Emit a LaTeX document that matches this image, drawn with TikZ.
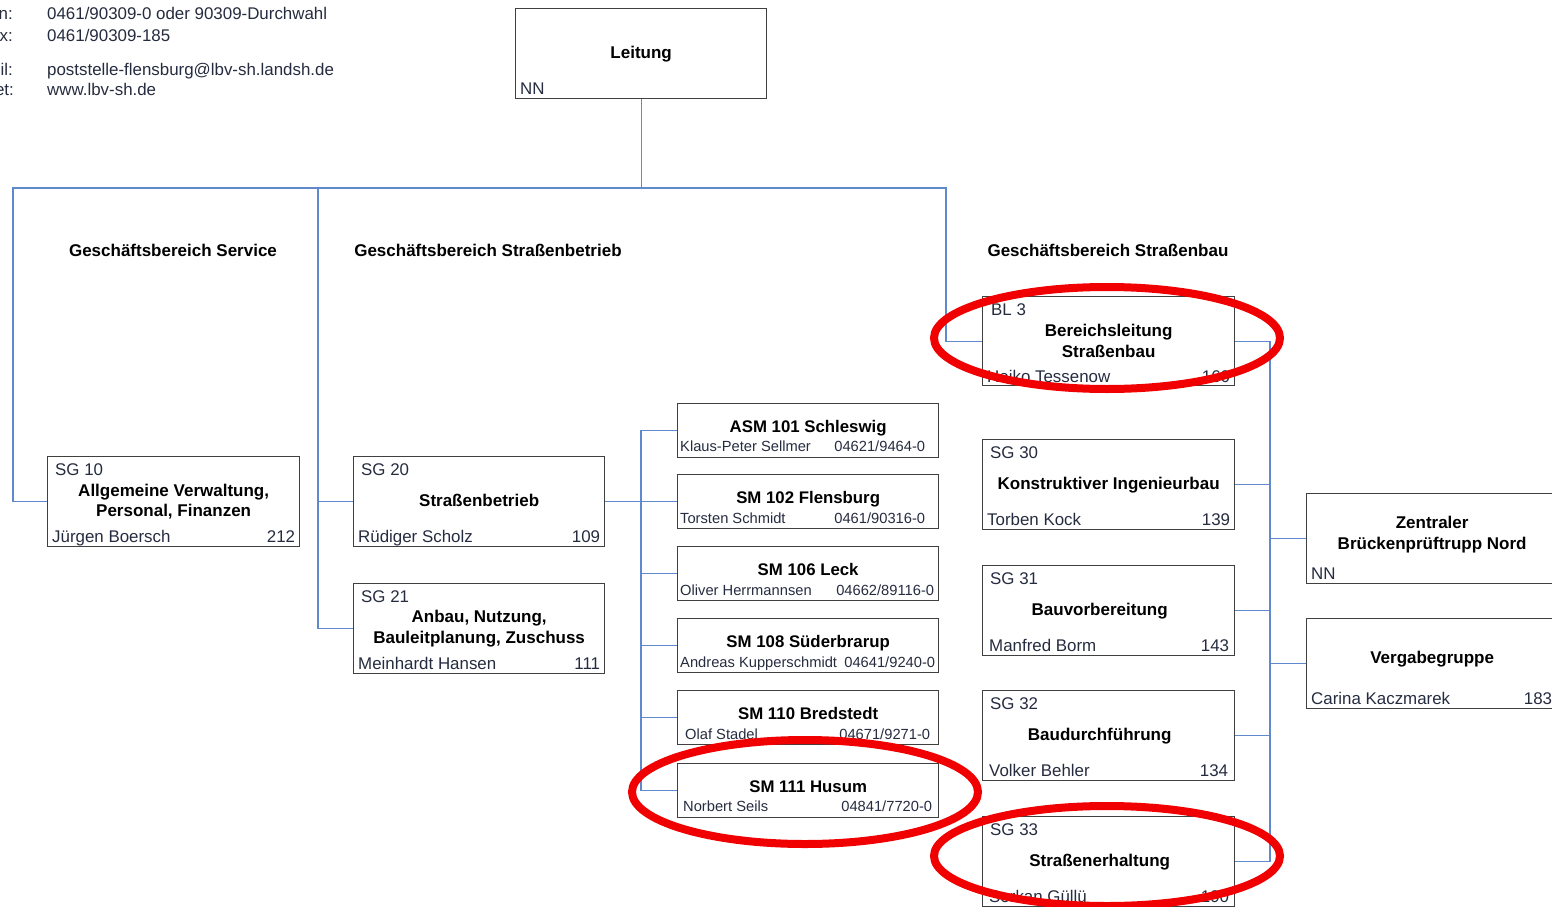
\documentclass[tikz,border=0pt]{standalone}
\usepackage{fontspec}
\setmainfont{Liberation Sans}
\usetikzlibrary{positioning}

\definecolor{linkblue}{RGB}{96,136,204}
\definecolor{framegray}{RGB}{64,64,64}
\definecolor{inkgray}{RGB}{38,44,64}
\definecolor{markred}{RGB}{240,0,0}

\tikzset{
  unitbox/.style={draw=framegray, line width=1.3pt, inner sep=0pt, anchor=north west},
  link/.style={draw=linkblue, line width=1.1pt},
  title/.style={font=\fontsize{17}{20.5}\selectfont\bfseries, align=center, inner sep=0pt},
  smtitle/.style={font=\fontsize{16.8}{19}\selectfont\bfseries, inner sep=0pt, anchor=base},
  info/.style={font=\fontsize{16.9}{20}\selectfont, text=inkgray, inner sep=0pt},
  small/.style={font=\fontsize{14.7}{17}\selectfont, text=inkgray, inner sep=0pt},
  marker/.style={draw=markred, line width=8pt},
}

\begin{document}
\begin{tikzpicture}[x=1pt, y=-1pt]
  \useasboundingbox (0,0) rectangle (1552,907);

  % contact lines, top left
  \node[info, anchor=base east] (telkey) at (13,20) {n:};
  \node[info, anchor=base west] (telval) at (47,20) {0461/90309-0 oder 90309-Durchwahl};
  \node[info, anchor=base east] (faxkey) at (13,42) {x:};
  \node[info, anchor=base west] (faxval) at (47,42) {0461/90309-185};
  \node[info, anchor=base east] (mailkey) at (13,75) {il:};
  \node[info, anchor=base west] (mailval) at (47,75) {poststelle-flensburg@lbv-sh.landsh.de};
  \node[info, anchor=base east] (webkey) at (14,95) {et:};
  \node[info, anchor=base west] (webval) at (47,95) {www.lbv-sh.de};

  % Leitung
  \node[unitbox, minimum width=251, minimum height=90] (leitung) at (515,8) {};
  \node[title, anchor=base] (leitungtitle) at ([shift={(0,51)}]leitung.north) {Leitung};
  \node[info, anchor=base west] (leitungname) at ([shift={(5,86)}]leitung.north west) {NN};

  % Geschaeftsbereiche
  \node[title, anchor=base] (gbservice) at (173,256) {Geschäftsbereich Service};
  \node[title, anchor=base] (gbbetrieb) at (488,256) {Geschäftsbereich Straßenbetrieb};
  \node[title, anchor=base] (gbbau) at (1108,256) {Geschäftsbereich Straßenbau};

  % SG 10
  \node[unitbox, minimum width=252, minimum height=90] (sg10) at (47,456) {};
  \node[info, anchor=base west] (sg10code) at ([shift={(8,19)}]sg10.north west) {SG 10};
  \node[title] (sg10title) at (sg10.center) {Allgemeine Verwaltung,\\Personal, Finanzen};
  \node[info, anchor=base west] (sg10name) at ([shift={(5,86)}]sg10.north west) {Jürgen Boersch};
  \node[info, anchor=base east] (sg10tel) at ([shift={(-5,86)}]sg10.north east) {212};

  % SG 20
  \node[unitbox, minimum width=251, minimum height=90] (sg20) at (353,456) {};
  \node[info, anchor=base west] (sg20code) at ([shift={(8,19)}]sg20.north west) {SG 20};
  \node[title, anchor=base] (sg20title) at ([shift={(0,50)}]sg20.north) {Straßenbetrieb};
  \node[info, anchor=base west] (sg20name) at ([shift={(5,86)}]sg20.north west) {Rüdiger Scholz};
  \node[info, anchor=base east] (sg20tel) at ([shift={(-5,86)}]sg20.north east) {109};

  % SG 21
  \node[unitbox, minimum width=251, minimum height=90] (sg21) at (353,583) {};
  \node[info, anchor=base west] (sg21code) at ([shift={(8,19)}]sg21.north west) {SG 21};
  \node[title] (sg21title) at (sg21.center) {Anbau, Nutzung,\\Bauleitplanung, Zuschuss};
  \node[info, anchor=base west] (sg21name) at ([shift={(5,86)}]sg21.north west) {Meinhardt Hansen};
  \node[info, anchor=base east] (sg21tel) at ([shift={(-5,86)}]sg21.north east) {111};

  % Strassenmeistereien
  \node[unitbox, minimum width=261, minimum height=54] (asm101) at (677,402.5) {};
  \node[smtitle] (asm101title) at ([shift={(0,29.5)}]asm101.north) {ASM 101 Schleswig};
  \node[small, anchor=base west] (asm101name) at ([shift={(3,49)}]asm101.north west) {Klaus-Peter Sellmer};
  \node[small, anchor=base east] (asm101tel) at ([shift={(-14,49)}]asm101.north east) {04621/9464-0};

  \node[unitbox, minimum width=261, minimum height=54] (sm102) at (677,474) {};
  \node[smtitle] (sm102title) at ([shift={(0,29.5)}]sm102.north) {SM 102 Flensburg};
  \node[small, anchor=base west] (sm102name) at ([shift={(3,49)}]sm102.north west) {Torsten Schmidt};
  \node[small, anchor=base east] (sm102tel) at ([shift={(-14,49)}]sm102.north east) {0461/90316-0};

  \node[unitbox, minimum width=261, minimum height=54] (sm106) at (677,546) {};
  \node[smtitle] (sm106title) at ([shift={(0,29.5)}]sm106.north) {SM 106 Leck};
  \node[small, anchor=base west] (sm106name) at ([shift={(3,49)}]sm106.north west) {Oliver Herrmannsen};
  \node[small, anchor=base east] (sm106tel) at ([shift={(-5,49)}]sm106.north east) {04662/89116-0};

  \node[unitbox, minimum width=261, minimum height=54] (sm108) at (677,618) {};
  \node[smtitle] (sm108title) at ([shift={(0,29.5)}]sm108.north) {SM 108 Süderbrarup};
  \node[small, anchor=base west] (sm108name) at ([shift={(3,49)}]sm108.north west) {Andreas Kupperschmidt};
  \node[small, anchor=base east] (sm108tel) at ([shift={(-4,49)}]sm108.north east) {04641/9240-0};

  \node[unitbox, minimum width=261, minimum height=54] (sm110) at (677,690) {};
  \node[smtitle] (sm110title) at ([shift={(0,29.5)}]sm110.north) {SM 110 Bredstedt};
  \node[small, anchor=base west] (sm110name) at ([shift={(8,49)}]sm110.north west) {Olaf Stadel};
  \node[small, anchor=base east] (sm110tel) at ([shift={(-9,49)}]sm110.north east) {04671/9271-0};

  \node[unitbox, minimum width=261, minimum height=54] (sm111) at (677,762.5) {};
  \node[smtitle] (sm111title) at ([shift={(0,29.5)}]sm111.north) {SM 111 Husum};
  \node[small, anchor=base west] (sm111name) at ([shift={(6,49)}]sm111.north west) {Norbert Seils};
  \node[small, anchor=base east] (sm111tel) at ([shift={(-7,49)}]sm111.north east) {04841/7720-0};

  % BL 3 and its groups
  \node[unitbox, minimum width=252, minimum height=89] (bl3) at (982,296) {};
  \node[info, anchor=base west] (bl3code) at ([shift={(9,19)}]bl3.north west) {BL 3};
  \node[title] (bl3title) at (bl3.center) {Bereichsleitung\\Straßenbau};
  \node[info, anchor=base west] (bl3name) at ([shift={(5,86)}]bl3.north west) {Heiko Tessenow};
  \node[info, anchor=base east] (bl3tel) at ([shift={(-5,86)}]bl3.north east) {160};

  \node[unitbox, minimum width=252, minimum height=90] (sg30) at (982,439) {};
  \node[info, anchor=base west] (sg30code) at ([shift={(8,19)}]sg30.north west) {SG 30};
  \node[title, anchor=base] (sg30title) at ([shift={(0,50)}]sg30.north) {Konstruktiver Ingenieurbau};
  \node[info, anchor=base west] (sg30name) at ([shift={(5,86)}]sg30.north west) {Torben Kock};
  \node[info, anchor=base east] (sg30tel) at ([shift={(-5,86)}]sg30.north east) {139};

  \node[unitbox, minimum width=252, minimum height=90] (sg31) at (982,565) {};
  \node[info, anchor=base west] (sg31code) at ([shift={(8,19)}]sg31.north west) {SG 31};
  \node[title, anchor=base] (sg31title) at ([shift={(-9,50)}]sg31.north) {Bauvorbereitung};
  \node[info, anchor=base west] (sg31name) at ([shift={(7,86)}]sg31.north west) {Manfred Borm};
  \node[info, anchor=base east] (sg31tel) at ([shift={(-6,86)}]sg31.north east) {143};

  \node[unitbox, minimum width=252, minimum height=90] (sg32) at (982,690) {};
  \node[info, anchor=base west] (sg32code) at ([shift={(8,19)}]sg32.north west) {SG 32};
  \node[title, anchor=base] (sg32title) at ([shift={(-9,50)}]sg32.north) {Baudurchführung};
  \node[info, anchor=base west] (sg32name) at ([shift={(7,86)}]sg32.north west) {Volker Behler};
  \node[info, anchor=base east] (sg32tel) at ([shift={(-7,86)}]sg32.north east) {134};

  \node[unitbox, minimum width=252, minimum height=90] (sg33) at (982,816) {};
  \node[info, anchor=base west] (sg33code) at ([shift={(8,19)}]sg33.north west) {SG 33};
  \node[title, anchor=base] (sg33title) at ([shift={(-9,50)}]sg33.north) {Straßenerhaltung};
  \node[info, anchor=base west] (sg33name) at ([shift={(7,86)}]sg33.north west) {Serkan Güllü};
  \node[info, anchor=base east] (sg33tel) at ([shift={(-6,86)}]sg33.north east) {190};

  \node[unitbox, minimum width=251, minimum height=90] (zbp) at (1306,493) {};
  \node[title] (zbptitle) at ([shift={(0,-4)}]zbp.center) {Zentraler\\Brückenprüftrupp Nord};
  \node[info, anchor=base west] (zbpname) at ([shift={(5,86)}]zbp.north west) {NN};

  \node[unitbox, minimum width=251, minimum height=90] (vergabe) at (1306,618) {};
  \node[title, anchor=base] (vergabetitle) at ([shift={(0,45)}]vergabe.north) {Vergabegruppe};
  \node[info, anchor=base west] (vergabename) at ([shift={(5,86)}]vergabe.north west) {Carina Kaczmarek};
  \node[info, anchor=base east] (vergabetel) at ([shift={(-6,86)}]vergabe.north east) {183};

  % connectors
  \coordinate (busleft) at (13,188);
  \coordinate (busmid) at (318,188);
  \coordinate (busright) at (946,188);
  \coordinate (smrail) at (641,0);
  \coordinate (baurail) at (1270,0);

  \draw[link] (leitung.south) |- (busleft) |- (sg10.west);
  \draw[link] (leitung.south) |- (busright) |- (bl3.west);
  \draw[link] (busmid) |- (sg20.west);
  \draw[link] (busmid) |- (sg21.west);

  \draw[link] (sg20.east) -- (sm102.west);
  \draw[link] (asm101.west) -| (smrail |- sm111.west) -- (sm111.west);
  \draw[link] (smrail |- sm106.west) -- (sm106.west);
  \draw[link] (smrail |- sm108.west) -- (sm108.west);
  \draw[link] (smrail |- sm110.west) -- (sm110.west);

  \draw[link] (bl3.east) -| (baurail |- sg33.east) -- (sg33.east);
  \draw[link] (baurail |- sg30.east) -- (sg30.east);
  \draw[link] (baurail |- sg31.east) -- (sg31.east);
  \draw[link] (baurail |- sg32.east) -- (sg32.east);
  \draw[link] (baurail |- zbp.west) -- (zbp.west);
  \draw[link] (baurail |- vergabe.west) -- (vergabe.west);

  % red markings
  \draw[marker] (1107,338) ellipse [x radius=173, y radius=51];
  \draw[marker] (805,792) ellipse [x radius=173, y radius=52];
  \draw[marker] (1107,856) ellipse [x radius=173, y radius=50];
\end{tikzpicture}
\end{document}
